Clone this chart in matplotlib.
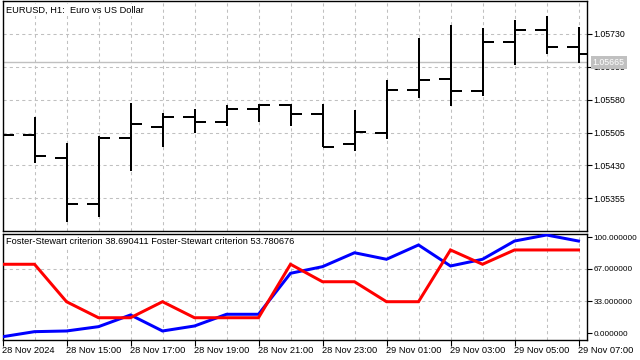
import matplotlib
matplotlib.use("Agg")
import matplotlib.pyplot as plt
import numpy as np

# ---- data ----
time_labels = ["28 Nov 2024", "28 Nov 15:00", "28 Nov 17:00", "28 Nov 19:00", "28 Nov 21:00",
               "28 Nov 23:00", "29 Nov 01:00", "29 Nov 03:00", "29 Nov 05:00", "29 Nov 07:00"]
opens  = [1.05505, 1.05500, 1.05448, 1.05341, 1.05493, 1.05518, 1.05541, 1.05529, 1.05558, 1.05568,
          1.05548, 1.05480, 1.05504, 1.05602, 1.05628, 1.05601, 1.05712, 1.05739, 1.05700]
highs  = [1.05515, 1.05540, 1.05481, 1.05497, 1.05572, 1.05550, 1.05558, 1.05568, 1.05570, 1.05570,
          1.05570, 1.05557, 1.05625, 1.05721, 1.05751, 1.05743, 1.05762, 1.05771, 1.05747]
lows   = [1.05490, 1.05436, 1.05302, 1.05313, 1.05418, 1.05473, 1.05505, 1.05521, 1.05530, 1.05519,
          1.05471, 1.05464, 1.05491, 1.05585, 1.05566, 1.05589, 1.05659, 1.05684, 1.05663]
closes = [1.05500, 1.05452, 1.05341, 1.05493, 1.05525, 1.05541, 1.05529, 1.05558, 1.05568, 1.05548,
          1.05471, 1.05506, 1.05602, 1.05625, 1.05601, 1.05712, 1.05739, 1.05700, 1.05684]
bid_price = 1.05665
price_ticks = [1.05355, 1.05430, 1.05505, 1.05580, 1.05655, 1.05730]

fs_blue = [-3.9, 1.4, 2.1, 6.6, 18.8, 2.1, 7.3, 19.5, 19.5, 62.2,
           69.1, 83.6, 76.8, 91.7, 69.8, 76.8, 95.8, 102.1, 95.8]
fs_red  = [71.6, 71.6, 32.6, 15.9, 15.9, 32.6, 15.9, 15.9, 15.9, 71.6,
           53.4, 53.4, 32.6, 32.6, 86.5, 71.6, 86.5, 86.5, 86.5]
ind_ticks = [0, 33, 67, 100]
legend_text = "Foster-Stewart criterion 38.690411 Foster-Stewart criterion 53.780676"
title_text = "EURUSD, H1:  Euro vs US Dollar"

# ---- style ----
FONT = "Liberation Sans"
FS = 6.7
PX = 0.72  # points per pixel at dpi 100
grid_kw = dict(color="#c0c0c0", linestyle=(0, (3, 3)), linewidth=0.75)

fig = plt.figure(figsize=(6.4, 3.6), dpi=100)
fig.patch.set_facecolor("white")
W, H = 640.0, 360.0
ax_l, ax_r = 2.5, 586.7
top_t, top_b = 1.0, 230.7
bot_t, bot_b = 233.5, 339.5
ax1 = fig.add_axes([ax_l / W, (H - top_b) / H, (ax_r - ax_l) / W, (top_b - top_t) / H])
ax2 = fig.add_axes([ax_l / W, (H - bot_b) / H, (ax_r - ax_l) / W, (bot_b - bot_t) / H])

n = len(opens)
x = np.arange(n)
xmax = (ax_r - ax_l) / 32.0

for ax, ls in ((ax1, 6.3), (ax2, 5.9)):
    ax.set_xlim(0, xmax)
    for s in ax.spines.values():
        s.set_linewidth(1.0)
        s.set_color("black")
    ax.yaxis.tick_right()
    ax.tick_params(axis="y", direction="out", length=3.5, width=0.8, pad=1.5,
                   labelsize=ls, labelfontfamily=FONT)
    ax.set_axisbelow(True)

# ---- top: HLC bars ----
ax1.set_ylim(1.052811, 1.058053)
ax1.set_yticks(price_ticks)
ax1.set_yticklabels([f"{v:.5f}" for v in price_ticks])
ax1.set_xticks(x)
ax1.tick_params(axis="x", length=0, labelbottom=False)
ax1.grid(True, **grid_kw)
ax1.axhline(bid_price, color="#c0c0c0", linewidth=1.0, zorder=1)
tw = 0.36
ax1.vlines(x, lows, highs, color="black", linewidth=2 * PX, zorder=3)
ax1.hlines(opens, x - tw, x, color="black", linewidth=2 * PX, zorder=3)
ax1.hlines(closes, x, x + tw, color="black", linewidth=2 * PX, zorder=3)
ax1.annotate(title_text, xy=(0, 1), xycoords="axes fraction", xytext=(4, -9),
             textcoords="offset pixels", ha="left", va="center", fontsize=FS,
             family=FONT, bbox=dict(facecolor="white", edgecolor="none", pad=0.8), zorder=5)
ax1.annotate(f"{bid_price:.5f}", xy=(1, bid_price), xycoords=("axes fraction", "data"),
             xytext=(6.0, 0), textcoords="offset pixels", ha="left", va="center",
             fontsize=6.3, family=FONT, color="white", annotation_clip=False,
             bbox=dict(facecolor="#c0c0c0", edgecolor="none", pad=1.5), zorder=10)

# ---- bottom: indicator ----
ax2.set_ylim(-6.77, 103.65)
ax2.set_yticks(ind_ticks)
ax2.set_yticklabels([f"{v:.6f}" for v in ind_ticks])
ax2.set_xticks(x[::2])
ax2.set_xticks(x[1::2], minor=True)
ax2.set_xticklabels(time_labels)
for lab in ax2.get_xticklabels():
    lab.set_ha("left")
ax2.tick_params(axis="x", which="major", direction="out", length=4, width=0.8, pad=0.5,
                labelsize=FS, labelfontfamily=FONT)
ax2.tick_params(axis="x", which="minor", length=0)
ax2.xaxis.grid(True, which="both", **grid_kw)
for v in (33, 67):
    ax2.axhline(v, zorder=0, **grid_kw)
ax2.plot(x, fs_blue, color="#0000ff", linewidth=3 * PX, solid_joinstyle="miter", zorder=3)
ax2.plot(x, fs_red, color="#ff0000", linewidth=3 * PX, solid_joinstyle="miter", zorder=4)
ax2.annotate(legend_text, xy=(0, 1), xycoords="axes fraction", xytext=(3.5, -8.5),
             textcoords="offset pixels", ha="left", va="center", fontsize=FS,
             family=FONT, bbox=dict(facecolor="white", edgecolor="none", pad=0.8), zorder=5)

fig.savefig("out.png", dpi=100)
